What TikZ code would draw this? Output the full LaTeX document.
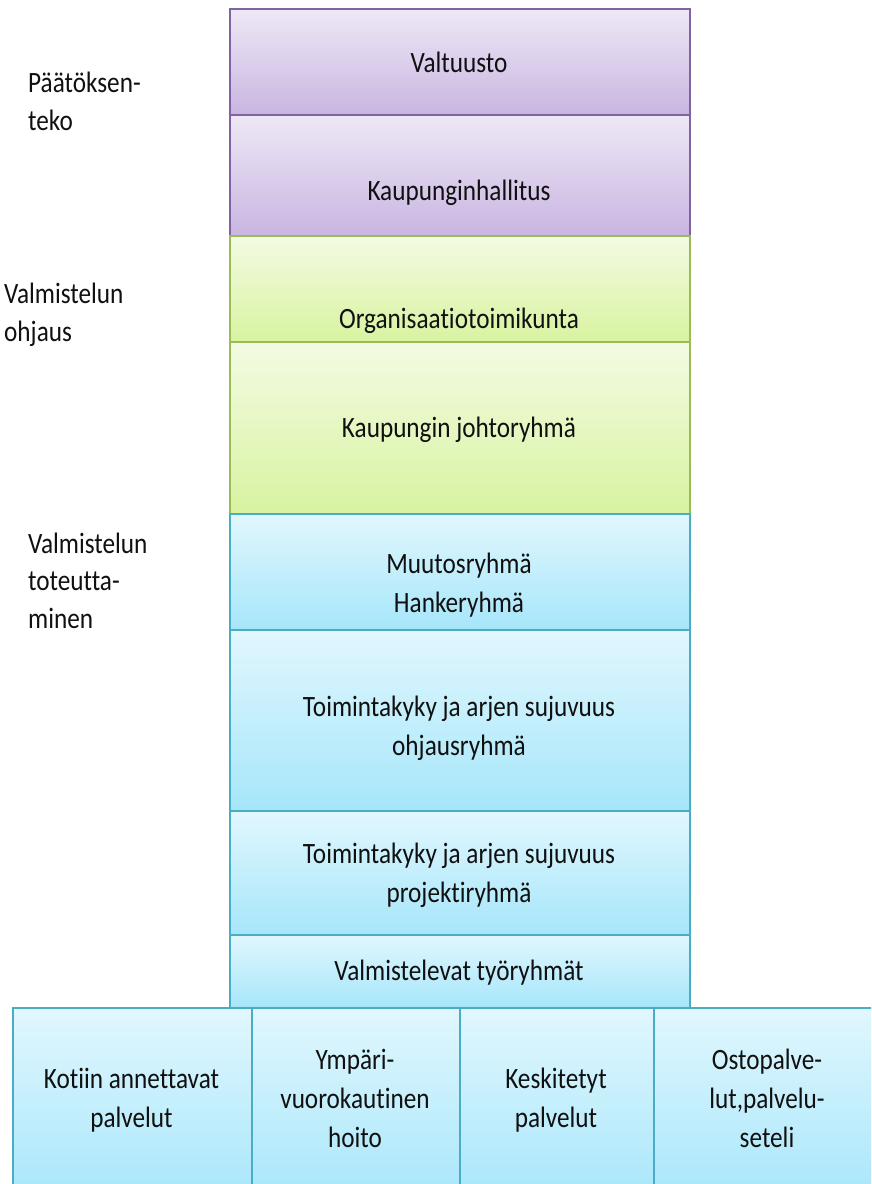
\documentclass[tikz,border=0pt]{standalone}
\usepackage{fontspec}
\setmainfont{Carlito}[FakeStretch=0.855, Ligatures=NoCommon]
\usetikzlibrary{shadings}

\definecolor{purpleedge}{HTML}{8064A2}
\definecolor{purpletop}{HTML}{EEE8F6}
\definecolor{purplebot}{HTML}{C9B5E1}
\definecolor{greenedge}{HTML}{9BBB59}
\definecolor{greentop}{HTML}{F3FBE3}
\definecolor{greenbot}{HTML}{D8F3A0}
\definecolor{blueedge}{HTML}{4BACC6}
\definecolor{bluetop}{HTML}{E1F7FE}
\definecolor{bluebot}{HTML}{A6E6FA}
\definecolor{inktext}{HTML}{101010}

\tikzset{
  panel/.style={rectangle, anchor=north west, inner sep=0pt, line width=1.6pt},
  violetpanel/.style={panel, draw=purpleedge, top color=purpletop, bottom color=purplebot},
  limepanel/.style={panel, draw=greenedge, top color=greentop, bottom color=greenbot},
  skypanel/.style={panel, draw=blueedge, top color=bluetop, bottom color=bluebot},
  % base anchor of a multi-line label sits on its last line
  label/.style={inner sep=0pt, anchor=base, align=center, text=inktext,
    font=\fontsize{29.5}{39}\selectfont},
  sidelabel/.style={label, anchor=base west, align=left,
    font=\fontsize{29.5}{37.5}\selectfont},
}

\begin{document}
\begin{tikzpicture}[x=1pt, y=-1pt]
\useasboundingbox (0,0) rectangle (871,1184);
\clip (0,0) rectangle (871,1184);

% decision level
\node[violetpanel, minimum width=460pt, minimum height=106pt] (valtuusto) at (229,8) {};
\node[violetpanel, minimum width=460pt, minimum height=121pt] (hallitus) at (229,114) {};

% steering of the preparation
\node[limepanel, minimum width=460pt, minimum height=106pt] (toimikunta) at (229,235) {};
\node[limepanel, minimum width=460pt, minimum height=172pt] (johto) at (229,341) {};

% implementation of the preparation
\node[skypanel, minimum width=460pt, minimum height=116pt] (muutos) at (229,513) {};
\node[skypanel, minimum width=460pt, minimum height=181pt] (ohjaus) at (229,629) {};
\node[skypanel, minimum width=460pt, minimum height=124pt] (projekti) at (229,810) {};
\node[skypanel, minimum width=460pt, minimum height=73pt] (tyoryhmat) at (229,934) {};

% service areas
\node[skypanel, minimum width=239pt, minimum height=200pt] (kotiin) at (12,1007) {};
\node[skypanel, minimum width=208pt, minimum height=200pt] (ymparivrk) at (251,1007) {};
\node[skypanel, minimum width=194pt, minimum height=200pt] (keskitetyt) at (459,1007) {};
\node[skypanel, minimum width=228pt, minimum height=200pt] (osto) at (653,1007) {};

% box texts
\node[label] (t-valtuusto) at (459,72) {Valtuusto};
\node[label] (t-hallitus) at (459,200) {Kaupunginhallitus};
\node[label] (t-toimikunta) at (459,328) {Organisaatiotoimikunta};
\node[label] (t-johto) at (459,437) {Kaupungin johtoryhmä};
\node[label] (t-muutos) at (459,612) {Muutosryhmä\\Hankeryhmä};
\node[label] (t-ohjaus) at (459,755) {Toimintakyky ja arjen sujuvuus\\ohjausryhmä};
\node[label] (t-projekti) at (459,902) {Toimintakyky ja arjen sujuvuus\\projektiryhmä};
\node[label] (t-tyoryhmat) at (459,980) {Valmistelevat työryhmät};
\node[label] (t-kotiin) at (131.5,1127) {Kotiin annettavat\\palvelut};
\node[label] (t-ymparivrk) at (355,1147) {Ympäri-\\vuorokautinen\\hoito};
\node[label] (t-keskitetyt) at (556,1127) {Keskitetyt\\palvelut};
\node[label] (t-osto) at (767,1147) {Ostopalve-\\lut,palvelu-\\seteli};

% level captions
\node[sidelabel] (paatos) at (28,130) {Päätöksen-\\teko};
\node[sidelabel] (ohjaustaso) at (4,341) {Valmistelun\\ohjaus};
\node[sidelabel] (toteutus) at (28,628) {Valmistelun\\toteutta-\\minen};
\end{tikzpicture}
\end{document}
